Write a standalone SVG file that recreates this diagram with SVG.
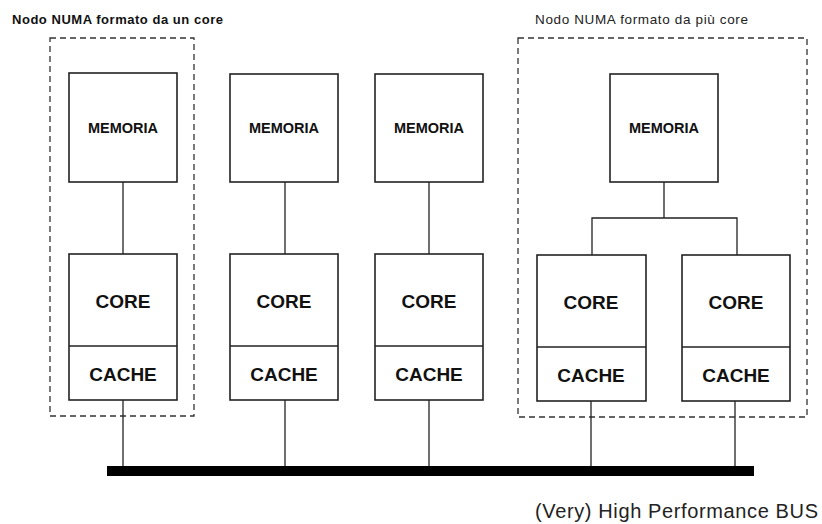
<svg xmlns="http://www.w3.org/2000/svg" width="822" height="524" viewBox="0 0 822 524">
<style>
.bx{fill:#fff;stroke:#222;stroke-width:1.6}
.dash{fill:none;stroke:#333;stroke-width:1.3;stroke-dasharray:6 4}
.ln{stroke:#222;stroke-width:1.3;fill:none}
.t{font-family:"Liberation Sans",Arial,sans-serif;fill:#111;text-anchor:middle}
.m{font-size:14.5px;font-weight:bold}
.c{font-size:19px;font-weight:bold}
</style>
<rect width="822" height="524" fill="#fff"/>
<text x="12" y="24" font-family="Liberation Sans,Arial,sans-serif" font-size="13" font-weight="bold" fill="#111" textLength="211">Nodo NUMA formato da un core</text>
<text x="535" y="24" font-family="Liberation Sans,Arial,sans-serif" font-size="13.5" fill="#222" textLength="213">Nodo NUMA formato da più core</text>
<g id="numa1"><rect class="dash" x="50" y="38" width="144" height="378"/></g>
<g id="numa2"><rect class="dash" x="518" y="38" width="289" height="379"/></g>
<g id="connectors">
<line class="ln" x1="123" y1="182" x2="123" y2="254"/>
<line class="ln" x1="285" y1="182" x2="285" y2="254"/>
<line class="ln" x1="429" y1="182" x2="429" y2="254"/>
<path class="ln" d="M664 182V218M592 255V218H737V255"/>
<line class="ln" x1="123" y1="400" x2="123" y2="468"/>
<line class="ln" x1="285" y1="400" x2="285" y2="468"/>
<line class="ln" x1="429" y1="400" x2="429" y2="468"/>
<line class="ln" x1="591" y1="400" x2="591" y2="468"/>
<line class="ln" x1="735" y1="400" x2="735" y2="468"/>
</g>
<g id="bus"><rect x="107" y="466" width="647" height="10" fill="#000"/>
<text x="818" y="518" font-family="Liberation Sans,Arial,sans-serif" font-size="20" fill="#222" text-anchor="end" textLength="283">(Very) High Performance BUS</text></g>
<g id="mem1"><rect class="bx" x="69" y="73" width="108" height="109"/><text class="t m" x="123" y="133">MEMORIA</text></g>
<g id="mem2"><rect class="bx" x="230" y="74" width="108" height="108"/><text class="t m" x="284" y="133">MEMORIA</text></g>
<g id="mem3"><rect class="bx" x="375" y="74" width="108" height="108"/><text class="t m" x="429" y="133">MEMORIA</text></g>
<g id="mem4"><rect class="bx" x="610" y="74" width="108" height="108"/><text class="t m" x="664" y="133">MEMORIA</text></g>
<g id="core1"><rect class="bx" x="69" y="254" width="108" height="146"/><line class="ln" x1="69" y1="346" x2="177" y2="346"/><text class="t c" x="123" y="308">CORE</text><text class="t c" x="123" y="381">CACHE</text></g>
<g id="core2"><rect class="bx" x="230" y="254" width="108" height="146"/><line class="ln" x1="230" y1="346" x2="338" y2="346"/><text class="t c" x="284" y="308">CORE</text><text class="t c" x="284" y="381">CACHE</text></g>
<g id="core3"><rect class="bx" x="375" y="254" width="108" height="146"/><line class="ln" x1="375" y1="346" x2="483" y2="346"/><text class="t c" x="429" y="308">CORE</text><text class="t c" x="429" y="381">CACHE</text></g>
<g id="core4"><rect class="bx" x="537" y="255" width="109" height="146"/><line class="ln" x1="537" y1="347" x2="646" y2="347"/><text class="t c" x="591" y="309">CORE</text><text class="t c" x="591" y="382">CACHE</text></g>
<g id="core5"><rect class="bx" x="682" y="255" width="108" height="146"/><line class="ln" x1="682" y1="347" x2="790" y2="347"/><text class="t c" x="736" y="309">CORE</text><text class="t c" x="736" y="382">CACHE</text></g>
</svg>
